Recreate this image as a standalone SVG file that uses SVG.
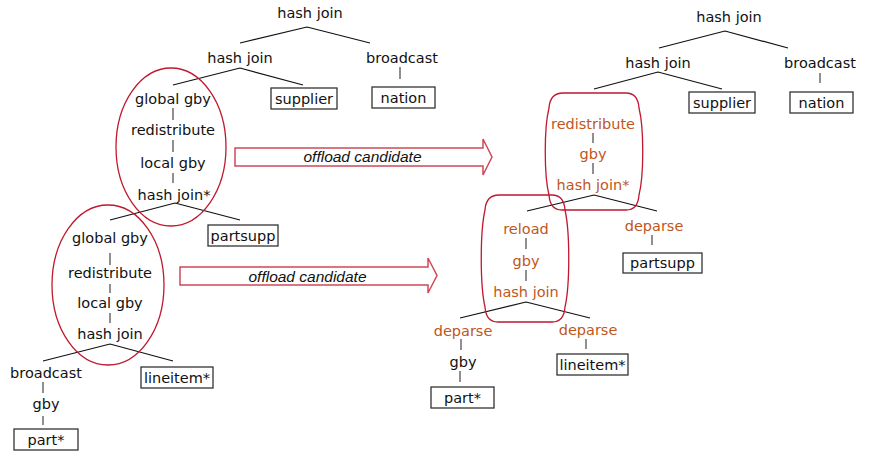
<svg xmlns="http://www.w3.org/2000/svg" width="872" height="455" viewBox="0 0 872 455">
<style>
.t{font-family:"DejaVu Sans",sans-serif;font-size:14.5px;fill:#111;text-anchor:middle}
.o{fill:#c0561c}
.box{fill:#fff;stroke:#333;stroke-width:1.3}
.ln{stroke:#111;stroke-width:1.2;fill:none}
.vl{stroke:#555;stroke-width:1.3;fill:none}
.ring{fill:none;stroke:#c0182e;stroke-width:1.3}
.arr{fill:#fff;stroke:#d04858;stroke-width:1.5}
.lab{font-family:"Liberation Sans",Arial,sans-serif;font-style:italic;font-size:15.5px;fill:#111;text-anchor:middle}
</style>
<rect width="872" height="455" fill="#fff"/>
<g id="connectors">
<path class="ln" d="M307,27L240,43M307,27L370,43M240,68L173,85M240,68L303,85M175,203L110,220M175,203L240,220M110,344L43,361M110,344L173,361"/>
<path class="vl" d="M400,67V79M173,108V120M173,140V152M173,173V183M110,253V265M110,284V293M110,313V323M43,382V393M43,416V425"/>
<path class="ln" d="M725,31L659,48M725,31L788,48M658,72L594,89M658,72L722,89M594,195L527,211M594,195L657,211M526,302L460,318M526,302L590,318"/>
<path class="vl" d="M820,73V83M593,133V143M593,163V174M652,235V245M526,238V249M526,270V281M461,339V350M460,371V382M586,339V349"/>
</g>
<g id="groups">
<ellipse id="ellipse1" class="ring" cx="171" cy="147" rx="55" ry="79"/>
<ellipse id="ellipse2" class="ring" cx="108" cy="285" rx="56" ry="80"/>
<path id="barrel1" class="ring" d="M563,93H626Q638,93 639,108C644,128 644,175 639,195Q638,210 626,210H562Q550,210 549,195C544,175 544,128 549,108Q550,93 563,93Z"/>
<path id="barrel2" class="ring" d="M499,195H552Q564,195 565,210C570,232 570,285 565,307Q564,322 552,322H498Q486,322 485,307C480,285 480,232 485,210Q486,195 499,195Z"/>
</g>
<g id="arrow1"><path class="arr" d="M235,148H483V139L492,157L483,175V166H235Z"/><text class="lab" x="362.5" y="162">offload candidate</text></g>
<g id="arrow2"><path class="arr" d="M180,267H428V258L437,275.5L428,293V285H180Z"/><text class="lab" x="307.5" y="282">offload candidate</text></g>
<g id="L_hashjoin_top"><text class="t" x="310" y="18">hash join</text></g>
<g id="L_hashjoin2"><text class="t" x="240" y="63">hash join</text></g>
<g id="L_broadcast"><text class="t" x="402" y="63">broadcast</text></g>
<g id="L_nation"><rect class="box" x="372" y="87" width="63" height="21"/><text class="t" x="403.5" y="103">nation</text></g>
<g id="L_supplier"><rect class="box" x="271" y="88" width="66" height="21"/><text class="t" x="304" y="104">supplier</text></g>
<g id="L_globalgby1"><text class="t" x="173" y="104">global gby</text></g>
<g id="L_redistribute1"><text class="t" x="173" y="135">redistribute</text></g>
<g id="L_localgby1"><text class="t" x="173" y="168">local gby</text></g>
<g id="L_hashjoinstar"><text class="t" x="174" y="200">hash join*</text></g>
<g id="L_partsupp"><rect class="box" x="208" y="225" width="70" height="21"/><text class="t" x="243" y="241">partsupp</text></g>
<g id="L_globalgby2"><text class="t" x="110" y="243">global gby</text></g>
<g id="L_redistribute2"><text class="t" x="110" y="278">redistribute</text></g>
<g id="L_localgby2"><text class="t" x="110" y="308">local gby</text></g>
<g id="L_hashjoin3"><text class="t" x="110" y="339">hash join</text></g>
<g id="L_broadcast2"><text class="t" x="46" y="378">broadcast</text></g>
<g id="L_gby"><text class="t" x="46" y="409">gby</text></g>
<g id="L_part"><rect class="box" x="14" y="429" width="64" height="21"/><text class="t" x="46" y="445">part*</text></g>
<g id="L_lineitem"><rect class="box" x="141" y="367" width="72" height="21"/><text class="t" x="177" y="383">lineitem*</text></g>
<g id="R_hashjoin_top"><text class="t" x="729" y="22">hash join</text></g>
<g id="R_hashjoin2"><text class="t" x="658" y="68">hash join</text></g>
<g id="R_broadcast"><text class="t" x="820" y="68">broadcast</text></g>
<g id="R_nation"><rect class="box" x="790" y="92" width="63" height="21"/><text class="t" x="821.5" y="108">nation</text></g>
<g id="R_supplier"><rect class="box" x="689" y="92" width="66" height="21"/><text class="t" x="722" y="108">supplier</text></g>
<g id="R_redistribute"><text class="t o" x="593" y="129">redistribute</text></g>
<g id="R_gby1"><text class="t o" x="593" y="159">gby</text></g>
<g id="R_hashjoinstar"><text class="t o" x="593" y="190">hash join*</text></g>
<g id="R_reload"><text class="t o" x="526" y="234">reload</text></g>
<g id="R_gby2"><text class="t o" x="526" y="266">gby</text></g>
<g id="R_hashjoin3"><text class="t o" x="526" y="297">hash join</text></g>
<g id="R_deparse1"><text class="t o" x="654" y="231">deparse</text></g>
<g id="R_partsupp"><rect class="box" x="623" y="253" width="79" height="20"/><text class="t" x="662.5" y="268">partsupp</text></g>
<g id="R_deparse2"><text class="t o" x="463" y="336">deparse</text></g>
<g id="R_gby3"><text class="t" x="463" y="367">gby</text></g>
<g id="R_part"><rect class="box" x="431" y="387" width="63" height="21"/><text class="t" x="462.5" y="403">part*</text></g>
<g id="R_deparse3"><text class="t o" x="588" y="335">deparse</text></g>
<g id="R_lineitem"><rect class="box" x="557" y="354" width="71" height="21"/><text class="t" x="592.5" y="370">lineitem*</text></g>
</svg>
